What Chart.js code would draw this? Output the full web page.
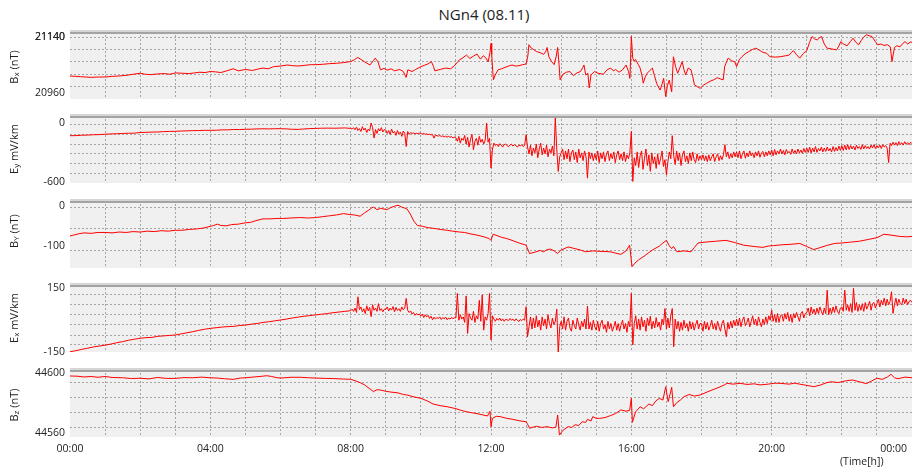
<!DOCTYPE html>
<html lang="en">
<head>
<meta charset="UTF-8">
<title>NGn4 (08.11)</title>
<script src="https://cdn.jsdelivr.net/npm/chart.js"></script>
<style>
  body { margin: 0; background: #fff; font-family: "Open Sans", "DejaVu Sans", sans-serif; color: #222; }
  #wrap { position: relative; width: 915px; height: 473px; overflow: hidden; }
  canvas { position: absolute; left: 0; }
  #title { position: absolute; left: 484px; top: 4px; transform: translateX(-50%); font-size: 15px; white-space: nowrap; }
  .ylab { position: absolute; left: 13px; font-size: 11px; white-space: nowrap; transform: translate(-50%, -50%) rotate(-90deg); }
  .ylab sub { font-size: 8px; vertical-align: -1px; }
  #tlab { position: absolute; left: 840px; top: 454px; font-size: 10.5px; white-space: nowrap; }
</style>
</head>
<body>
<div id="wrap">
  <div id="title">NGn4 (08.11)</div>
  <canvas id="c0" width="915" height="92"></canvas>
  <canvas id="c1" width="915" height="92"></canvas>
  <canvas id="c2" width="915" height="92"></canvas>
  <canvas id="c3" width="915" height="92"></canvas>
  <canvas id="c4" width="915" height="104"></canvas>
  <div class="ylab" style="top:67px">B<sub>x</sub> (nT)</div>
  <div class="ylab" style="top:149px">E<sub>y</sub> mV/km</div>
  <div class="ylab" style="top:231px">B<sub>Y</sub> (nT)</div>
  <div class="ylab" style="top:318px">E<sub>x</sub> mV/km</div>
  <div class="ylab" style="top:405px">B<sub>z</sub> (nT)</div>
  <div id="tlab">(Time[h])</div>
</div>
<script>
// ---- data (hours since 00:00) ----
const bxTime = [0,0.15,0.3,0.45,0.6,0.8,1,1.2,1.4,1.6,1.8,2,2.15,2.3,2.5,2.7,2.85,3,3.2,3.4,3.55,3.7,3.85,4,4.15,4.3,4.5,4.65,4.8,5,5.2,5.35,5.5,5.65,5.8,6,6.2,6.35,6.5,6.7,6.85,7,7.2,7.4,7.6,7.8,8,8.1,8.2,8.3,8.4,8.55,8.65,8.7,8.78,8.85,8.95,9.05,9.15,9.25,9.4,9.5,9.58,9.63,9.75,9.85,10,10.1,10.2,10.3,10.36,10.4,10.55,10.7,10.85,10.95,11.1,11.2,11.3,11.4,11.5,11.6,11.7,11.78,11.85,11.92,11.97,12,12.02,12.05,12.07,12.12,12.2,12.3,12.4,12.5,12.6,12.7,12.8,12.9,13,13.05,13.08,13.15,13.2,13.3,13.4,13.5,13.56,13.6,13.65,13.72,13.8,13.86,13.9,13.94,13.97,14.05,14.15,14.25,14.35,14.45,14.55,14.62,14.65,14.7,14.76,14.8,14.85,14.95,15.05,15.2,15.3,15.4,15.5,15.55,15.65,15.75,15.85,15.92,15.96,16,16.04,16.08,16.12,16.2,16.25,16.3,16.34,16.4,16.45,16.52,16.6,16.66,16.72,16.77,16.82,16.88,16.92,16.98,17.03,17.08,17.15,17.2,17.26,17.32,17.38,17.45,17.5,17.55,17.62,17.7,17.75,17.8,17.88,17.96,18.05,18.15,18.25,18.35,18.45,18.55,18.62,18.66,18.72,18.76,18.85,18.95,19,19.08,19.15,19.25,19.35,19.45,19.55,19.65,19.75,19.86,19.95,20.1,20.24,20.4,20.5,20.56,20.62,20.7,20.8,20.9,21,21.08,21.15,21.22,21.3,21.36,21.42,21.5,21.58,21.7,21.85,21.92,21.97,22.05,22.15,22.25,22.32,22.4,22.48,22.55,22.62,22.7,22.78,22.86,22.95,23.02,23.12,23.2,23.3,23.38,23.43,23.5,23.57,23.66,23.74,23.8,23.88,23.95,24];
const bxVal = [21027,21026,21025,21024,21023,21024,21024,21026,21027,21029,21032,21035,21032,21031,21033,21034,21032,21036,21035,21034,21036,21038,21037,21040,21039,21037,21043,21048,21042,21046,21043,21047,21050,21048,21054,21056,21059,21057,21056,21058,21060,21060,21061,21063,21064,21066,21069,21074,21081,21075,21068,21059,21072,21079,21068,21045,21049,21044,21048,21042,21046,21040,21023,21045,21040,21046,21054,21058,21062,21069,21055,21042,21046,21050,21048,21056,21074,21080,21088,21078,21085,21091,21076,21086,21080,21068,21095,21122,21090,21040,21016,21030,21045,21048,21052,21056,21059,21056,21057,21060,21062,21085,21118,21108,21105,21098,21095,21090,21098,21110,21083,21070,21060,21085,21110,21060,21016,21032,21038,21040,21028,21036,21040,21052,21059,21030,21035,20992,21030,21040,21035,21032,21044,21050,21042,21046,21038,21045,21059,21040,21020,21142,21079,21070,21075,21060,21050,21030,21006,21025,21035,21042,21050,21028,21006,20995,20986,21005,21020,20967,21000,21015,20981,21083,21055,21035,21050,21069,21045,21030,21050,21045,21025,21001,20996,20991,21000,21006,21012,21016,21022,21018,21016,21054,21070,21079,21072,21068,21054,21075,21083,21092,21098,21104,21108,21102,21096,21093,21083,21082,21083,21086,21088,21095,21101,21090,21079,21092,21101,21125,21142,21135,21132,21138,21142,21120,21108,21106,21103,21115,21127,21120,21115,21128,21137,21125,21118,21130,21140,21147,21144,21142,21128,21118,21120,21116,21118,21112,21069,21110,21115,21112,21122,21127,21120,21126,21125];

// Ey and Ex: 10-minute samples until 08:00, then 2.5-minute samples to 24:00
const SLOW_COUNT = 48;
const SLOW_MIN = 10;
const FAST_MIN = 2.5;
const eyVal = [
  // 00:00 - 07:50
  -113,-112,-108,-107,-103,-102,
  -98,-95,-93,-90,-88,-87,
  -80,-78,-76,-75,-71,-69,
  -68,-65,-63,-61,-60,-58,
  -58,-57,-53,-53,-49,-50,
  -47,-46,-43,-42,-43,-41,
  -41,-43,-47,-48,-44,-40,
  -38,-36,-35,-36,-35,-33,
  // 08:00 onwards
  -38,-45,-30,-52,-25,-60,-40,-70,-20,-55,-35,-80,-45,-62,17,-30,-137,-50,-90,-40,-65,-30,-75,-50,
  -55,-90,-60,-100,-45,-85,-70,-110,-60,-95,-75,-120,-65,-90,-224,-70,-100,-80,-90,-85,-95,-88,-92,-86,
  -90,-96,-88,-100,-94,-102,-98,-105,-100,-138,-108,-112,-118,-110,-122,-115,-125,-118,-128,-120,-130,-122,-135,-128,
  -135,-170,-120,-190,-140,-160,-110,-200,-130,-230,-150,-100,-258,-170,-140,-210,-120,-180,-150,-200,-160,17,-180,-140,
  -447,-250,-190,-215,-200,-225,-195,-210,-230,-205,-200,-215,-225,-210,-200,-220,-205,-215,-230,-210,-220,-205,-225,-215,
  -103,-230,-300,-210,-320,-240,-290,-200,-340,-250,-190,-310,-240,-300,-210,-330,-250,-290,-220,-320,69,-260,-481,-330,
  -290,-250,-360,-270,-350,-250,-380,-290,-260,-360,-280,-390,-250,-340,-290,-370,-270,-330,-550,-280,-350,-290,-370,-300,
  -360,-270,-390,-290,-350,-280,-380,-300,-270,-370,-300,-350,-280,-390,-310,-270,-360,-300,-370,-280,-380,-310,-350,-290,
  -69,-584,-340,-420,-280,-440,-320,-270,-460,-350,-250,-420,-310,-480,-290,-400,-330,-450,-300,-410,-350,-270,-430,-360,
  -515,-380,-280,-350,-113,-320,-410,-270,-370,-290,-420,-310,-270,-380,-320,-400,-290,-370,-280,-360,-390,-300,-370,-320,
  -360,-310,-370,-320,-380,-310,-370,-330,-300,-380,-330,-300,-370,-320,-360,-310,-206,-330,-280,-350,-300,-340,-280,-330,
  -280,-340,-270,-350,-300,-270,-345,-290,-330,-270,-320,-290,-340,-280,-320,-270,-335,-290,-275,-330,-280,-320,-270,-310,
  -260,-320,-255,-310,-270,-300,-250,-300,-265,-310,-255,-290,-275,-305,-250,-295,-265,-300,-250,-290,-260,-295,-245,-285,
  -240,-285,-230,-290,-240,-280,-225,-285,-245,-270,-230,-280,-240,-275,-230,-270,-245,-280,-225,-275,-235,-270,-220,-265,
  -215,-265,-210,-260,-205,-255,-215,-250,-220,-260,-210,-245,-225,-255,-205,-250,-215,-245,-225,-250,-210,-240,-205,-245,
  -215,-240,-210,-245,-205,-230,-215,-240,-389,-190,-215,-180,-210,-185,-215,-175,-205,-185,-210,-175,-200,-185,-205,-180,
  -195
];

const exVal = [
  // 00:00 - 07:50
  -143,-138,-132,-127,-121,-117,
  -113,-108,-102,-97,-91,-86,
  -82,-79,-78,-73,-71,-69,
  -67,-62,-57,-52,-46,-41,
  -37,-34,-31,-29,-28,-24,
  -22,-18,-15,-10,-7,-3,
  1,5,10,14,18,21,
  24,27,30,34,37,40,
  // 08:00 onwards
  43,50,40,55,35,106,48,60,38,52,30,65,42,58,16,70,45,55,40,75,44,52,38,50,
  49,60,42,55,46,62,38,58,44,52,40,60,47,55,99,45,35,42,28,35,22,30,24,28,
  19,28,12,25,15,22,8,18,2,14,5,12,8,15,3,12,6,14,2,10,5,13,7,11,
  10,121,0,25,5,15,-10,110,-60,30,10,0,40,-10,20,5,90,-5,115,-45,15,0,30,121,
  -90,20,5,-5,8,0,10,-3,6,-5,4,2,-2,8,0,5,-4,6,1,-6,3,-2,5,0,
  61,-75,-30,15,-40,10,-35,20,-30,0,-45,15,-25,5,-40,25,-15,-35,10,-20,-5,50,-150,-30,
  -5,-40,15,-45,-5,10,-35,-50,0,-25,-40,10,-20,-45,-5,-30,5,-40,64,-40,-10,-45,0,-30,
  -45,-5,-50,-15,0,-40,-20,-55,-5,-40,-15,-50,-30,-5,-45,-15,-50,-20,0,-40,-15,-55,-5,-30,
  121,-112,-15,20,-40,5,-45,15,-30,0,-50,10,-25,18,-40,-5,-35,12,-30,-8,-45,5,-20,53,
  -40,10,-35,20,53,-120,5,-40,-5,-50,-10,-45,0,-35,-15,-50,-5,-40,-10,-45,-20,0,-40,-15,
  -15,-50,-5,-40,-10,-45,-25,0,-40,-15,-45,-5,-30,-50,-15,0,-40,-75,-10,-40,-5,-35,0,-25,
  5,-25,10,-30,0,15,-25,-10,10,-30,-5,20,-20,5,-25,15,-10,-30,5,-20,15,-15,20,0,
  46,-5,25,-10,30,-10,20,25,-5,30,5,35,-5,25,-10,30,10,35,15,-5,30,40,10,30,
  35,55,20,60,30,50,25,55,30,60,40,25,55,30,136,25,55,30,60,35,65,40,30,55,
  60,40,136,45,70,40,75,35,144,45,80,40,70,45,75,40,80,50,65,85,45,75,80,55,
  75,95,60,90,70,100,65,95,70,85,129,31,70,100,65,95,75,70,100,75,95,70,85,90,
  80
];

const byTime = [0,0.1,0.25,0.4,0.6,0.8,1,1.2,1.4,1.6,1.8,2,2.2,2.4,2.6,2.8,3,3.2,3.4,3.6,3.8,4,4.1,4.2,4.3,4.45,4.6,4.8,5,5.15,5.3,5.5,5.7,5.9,6.07,6.3,6.56,6.8,7,7.2,7.4,7.6,7.8,7.95,8.1,8.27,8.4,8.5,8.6,8.65,8.75,8.85,9.03,9.15,9.25,9.35,9.45,9.6,9.7,9.8,9.9,10.05,10.2,10.4,10.55,10.75,10.9,11.1,11.25,11.4,11.6,11.8,11.95,12,12.06,12.2,12.3,12.45,12.6,12.8,13,13.1,13.25,13.4,13.5,13.6,13.7,13.8,13.9,14,14.2,14.4,14.55,14.7,14.9,15.1,15.4,15.55,15.7,15.85,15.95,16.02,16.1,16.2,16.4,16.6,16.8,16.9,17,17.08,17.15,17.2,17.3,17.5,17.7,17.8,17.9,18.1,18.4,18.7,18.95,19.2,19.5,19.75,19.9,20.05,20.3,20.55,20.8,21,21.2,21.4,21.6,21.8,22,22.25,22.5,22.75,23,23.1,23.2,23.4,23.65,23.85,24];
const byVal = [-66,-64,-61,-59,-60,-58,-58,-59,-57,-58,-56,-57,-55,-56,-54,-55,-53,-53,-51,-50,-48,-44,-42,-39,-42,-43,-40,-39,-36,-35,-31,-27,-27,-26,-26,-25,-24,-25,-24,-22,-20,-18,-15,-17,-18,-21,-13,-8,-2,0,-6,-3,-6,-1,2,4,0,-4,-16,-32,-42,-44,-47,-49,-51,-53,-55,-57,-58,-61,-64,-68,-72,-76,-62,-66,-69,-72,-76,-82,-87,-106,-103,-99,-102,-97,-96,-100,-106,-98,-91,-95,-98,-102,-100,-101,-102,-105,-108,-100,-87,-136,-128,-121,-110,-98,-89,-82,-76,-88,-95,-90,-102,-100,-102,-92,-82,-80,-78,-76,-81,-87,-90,-92,-89,-88,-86,-85,-83,-90,-97,-92,-87,-83,-82,-80,-78,-74,-70,-66,-62,-64,-67,-68,-67];

const bzTime = [0,0.2,0.4,0.6,0.8,1,1.2,1.5,1.75,2,2.25,2.5,2.75,3,3.25,3.5,3.75,4,4.2,4.4,4.65,4.85,5,5.3,5.5,5.6,5.75,5.9,6,6.3,6.56,6.8,7,7.3,7.5,7.8,8,8.15,8.27,8.4,8.55,8.65,8.75,8.85,9,9.15,9.35,9.5,9.6,9.8,10,10.2,10.35,10.55,10.75,11,11.15,11.3,11.45,11.6,11.8,11.9,11.97,12,12.04,12.15,12.26,12.45,12.6,12.8,13,13.05,13.1,13.2,13.3,13.45,13.6,13.75,13.85,13.9,13.95,14.05,14.2,14.3,14.4,14.5,14.6,14.7,14.75,14.85,14.9,15,15.1,15.25,15.4,15.55,15.7,15.85,15.95,16,16.03,16.12,16.25,16.35,16.5,16.6,16.7,16.8,16.9,16.98,17.05,17.12,17.15,17.2,17.3,17.4,17.5,17.65,17.8,17.96,18.1,18.3,18.5,18.65,18.73,18.9,19.1,19.3,19.5,19.67,19.9,20.1,20.24,20.5,20.65,20.8,21,21.2,21.4,21.55,21.7,21.9,22.1,22.3,22.5,22.7,22.85,23,23.15,23.3,23.4,23.5,23.6,23.8,24];
const bzVal = [44598.1,44598.0,44597.5,44597.8,44597.3,44597.8,44597.2,44597.0,44596.5,44596.7,44596.3,44597.2,44596.6,44596.6,44597.1,44597.0,44597.4,44597.0,44596.8,44596.4,44596.0,44596.8,44597.0,44597.6,44598.0,44598.3,44597.8,44597.0,44596.8,44597.3,44597.3,44597.0,44596.8,44596.6,44596.5,44596.2,44596.0,44595.0,44593.9,44592.5,44590.0,44588.3,44589.5,44589.3,44588.5,44588.0,44587.5,44586.5,44586.2,44585.0,44584.1,44582.3,44580.5,44579.5,44578.8,44577.6,44576.5,44575.7,44575.0,44574.5,44573.5,44573.0,44576.0,44566.3,44571.5,44572.8,44572.6,44571.5,44571.0,44570.0,44569.4,44567.5,44565.3,44566.0,44566.5,44565.8,44566.3,44565.5,44566.0,44573.6,44561.0,44564.0,44566.3,44565.8,44567.5,44567.0,44569.4,44569.0,44570.9,44569.8,44572.6,44571.5,44571.5,44572.0,44573.2,44574.5,44576.8,44576.0,44576.5,44584.1,44569.0,44575.5,44578.8,44577.5,44580.5,44579.5,44582.5,44584.1,44583.0,44591.4,44582.0,44588.0,44591.0,44578.8,44581.5,44583.0,44585.1,44586.5,44585.5,44586.2,44587.5,44589.3,44591.0,44592.5,44593.5,44593.0,44593.5,44592.8,44593.2,44592.5,44593.0,44593.6,44593.5,44593.0,44593.6,44593.0,44592.2,44591.4,44592.5,44593.8,44594.5,44594.0,44595.0,44595.6,44594.5,44593.3,44595.0,44596.7,44596.0,44597.5,44599.2,44597.0,44596.4,44597.4,44597.0];

// ---- axes: ranges, dotted grid lines, and the two printed labels per panel ----
const yMin = [20960, -600, -139, -144, 44559.8];
const yMax = [21158, 100, 16, 164, 44602.5];
const yGrid = [
  [20996, 21032, 21068, 21104, 21140],
  [0, -100, -200, -300, -400, -500],
  [0, -50, -100],
  [117, 72, 26.5, -19, -67, -112],
  [44594.2, 44584.7, 44575.3, 44565.9]
];
const yLabelPos = [[21140, 20977], [14, -593], [3, -89], [144, -146], [44599.8, 44562.1]];
const yLabelText = [['21140', '20960'], ['0', '-600'], ['0', '-100'], ['150', '-150'], ['44600', '44560']];

const hourTicks = [0,1,2,3,4,5,6,7,8,9,10,11,12,13,14,15,16,17,18,19,20,21,22,23,24];
const xLabelHours = [0, 4, 8, 12, 16, 20, 24];
const xLabelText = ['00:00', '04:00', '08:00', '12:00', '16:00', '20:00', '00:00'];

const FONT = '"Open Sans", "DejaVu Sans", sans-serif';
const GRID = '#a6a6a6';
const PLOT_TOP = [31, 115, 200, 284, 369];

function pts(times, vals) {
  return vals.map((v, i) => ({ x: times[i], y: v }));
}
// sample times (hours) for the Ey / Ex records
const sampleTimes = vals => vals.map((_, i) =>
  i < SLOW_COUNT ? i * SLOW_MIN / 60 : 8 + (i - SLOW_COUNT) * FAST_MIN / 60);

const series = [
  pts(bxTime, bxVal),
  pts(sampleTimes(eyVal), eyVal),
  pts(byTime, byVal),
  pts(sampleTimes(exVal), exVal),
  pts(bzTime, bzVal)
];

const panelPlugin = {
  id: 'panelBg',
  beforeDraw(chart) {
    const { ctx, chartArea: a } = chart;
    ctx.save();
    ctx.fillStyle = '#f0f0f0';
    ctx.fillRect(a.left, a.top, a.right - a.left, a.bottom - a.top);
    ctx.restore();
  },
  afterDraw(chart) {
    const { ctx, chartArea: a } = chart;
    ctx.save();
    ctx.fillStyle = '#d6d6d6';
    ctx.fillRect(a.left, a.top - 1, a.right - a.left, 2);
    ctx.fillStyle = '#a3a3a3';
    ctx.fillRect(a.left, a.top + 1, a.right - a.left, 2);
    ctx.restore();
  }
};

function makePanel(i) {
  const bottom = i === 4;
  const canvas = document.getElementById('c' + i);
  canvas.style.top = (PLOT_TOP[i] - 12) + 'px';
  const gridSet = new Set(yGrid[i]);

  new Chart(canvas, {
    type: 'line',
    data: {
      datasets: [{
        data: series[i],
        borderColor: '#ff0000',
        borderWidth: 1,
        pointRadius: 0,
        fill: false,
        tension: 0
      }]
    },
    options: {
      responsive: false,
      animation: false,
      events: [],
      layout: { padding: { top: 12, bottom: bottom ? 0 : 12, left: 0, right: 3 } },
      plugins: { legend: { display: false }, tooltip: { enabled: false } },
      scales: {
        x: {
          type: 'linear',
          min: 0,
          max: 24,
          afterBuildTicks: s => { s.ticks = hourTicks.map(v => ({ value: v })); },
          afterFit: s => {
            s.height = bottom ? 24 : 0;
            s.paddingLeft = 0;
            s.paddingRight = 0;
          },
          ticks: {
            display: bottom,
            autoSkip: false,
            maxRotation: 0,
            padding: 6,
            color: '#222',
            font: { family: FONT, size: 10.5 },
            callback: v => {
              const k = xLabelHours.indexOf(v);
              if (k < 0) return '';
              // last label sits inside the right edge
              return v === 24 ? xLabelText[k] + '\u2002'.repeat(7) : xLabelText[k];
            }
          },
          grid: {
            drawTicks: false,
            lineWidth: 1,
            color: c => (c.tick && c.tick.value > 0 && c.tick.value < 24) ? GRID : 'rgba(0,0,0,0)'
          },
          border: { display: false, dash: [2, 2] }
        },
        y: {
          min: yMin[i],
          max: yMax[i],
          afterBuildTicks: s => {
            s.ticks = yGrid[i].concat(yLabelPos[i]).map(v => ({ value: v }));
          },
          afterFit: s => { s.width = 70; },
          ticks: {
            autoSkip: false,
            padding: 5,
            color: '#222',
            font: { family: FONT, size: 10.5 },
            callback: v => {
              const k = yLabelPos[i].indexOf(v);
              return k < 0 ? '' : yLabelText[i][k];
            }
          },
          grid: {
            drawTicks: false,
            lineWidth: 1,
            color: c => (c.tick && gridSet.has(c.tick.value)) ? GRID : 'rgba(0,0,0,0)'
          },
          border: { display: false, dash: [2, 2] }
        }
      }
    },
    plugins: [panelPlugin]
  });
}

for (let i = 0; i < 5; i++) makePanel(i);
</script>
</body>
</html>
